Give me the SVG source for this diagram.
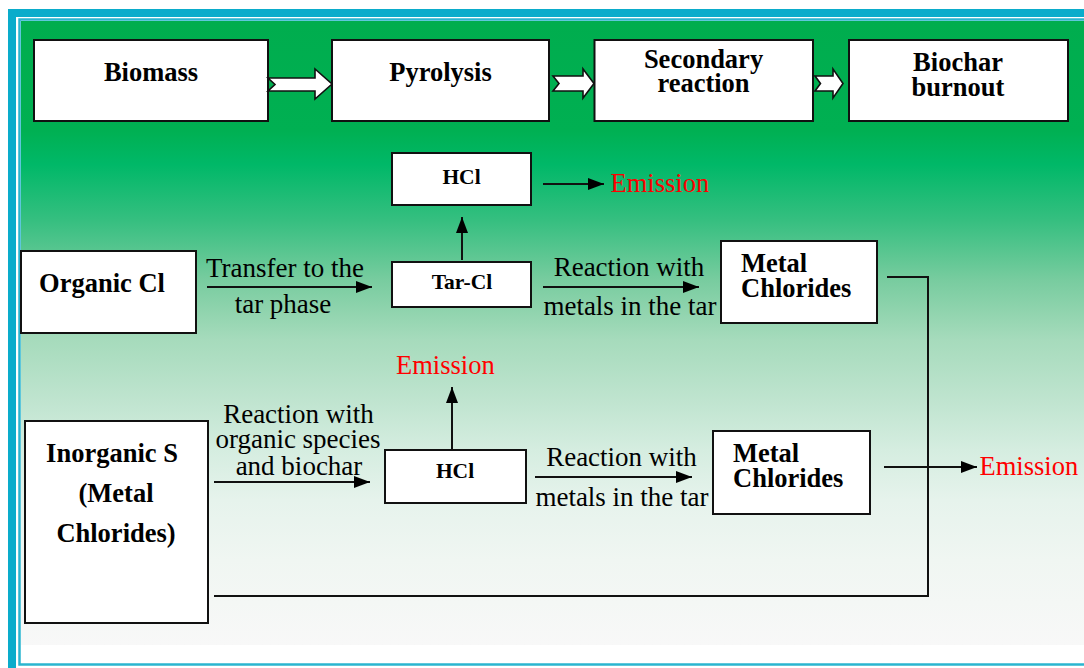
<svg xmlns="http://www.w3.org/2000/svg" width="1084" height="668" viewBox="0 0 1084 668">
<defs>
<linearGradient id="bg" x1="0" y1="21" x2="0" y2="645" gradientUnits="userSpaceOnUse">
<stop offset="0" stop-color="#00ad4e"/>
<stop offset="0.175" stop-color="#00b052"/>
<stop offset="0.23" stop-color="#00b868"/>
<stop offset="0.32" stop-color="#36bf80"/>
<stop offset="0.415" stop-color="#78cc9f"/>
<stop offset="0.511" stop-color="#a6dbbc"/>
<stop offset="0.607" stop-color="#bfe4cf"/>
<stop offset="0.6875" stop-color="#d5ede0"/>
<stop offset="0.768" stop-color="#e6f3ec"/>
<stop offset="0.864" stop-color="#f0f6f2"/>
<stop offset="1" stop-color="#f8f8f8"/>
</linearGradient>
<marker id="ah" markerUnits="userSpaceOnUse" markerWidth="16" markerHeight="12" refX="16" refY="6" orient="auto">
<path d="M0,0 L16,6 L0,12 Z" fill="#000"/>
</marker>
<style>
.box{fill:#fff;stroke:#111;stroke-width:2}
.blk{fill:#fff;stroke:#111;stroke-width:1.6;stroke-linejoin:miter}
text{font-family:'Liberation Serif','Tinos','Times New Roman','Nimbus Roman','DejaVu Serif',serif}
.b{font-weight:bold;fill:#000}
.big{font-size:26.5px}
.sm{font-size:21.5px}
.r{font-size:27px;fill:#000}
.em{font-size:26.5px;fill:#ff0000}
.c{text-anchor:middle}
.ln{fill:none;stroke:#111;stroke-width:2}
</style>
</defs>
<rect x="0" y="0" width="1084" height="668" fill="#fff"/>
<g id="frame">
<rect x="8" y="9" width="8" height="659" fill="#0aaccb"/>
<rect x="8" y="9" width="1076" height="8" fill="#0aaccb"/>
<rect x="21" y="21" width="1063" height="624" fill="url(#bg)"/>
<path d="M1084,664.5 L19.5,664.5 L19.5,19.5 L1084,19.5" fill="none" stroke="#2ab5cf" stroke-width="2.5"/>
</g>
<g id="biomass"><rect class="box" x="34" y="40" width="234" height="81"/><text class="b big c" x="151" y="81">Biomass</text></g>
<g id="pyrolysis"><rect class="box" x="332" y="40" width="217" height="81"/><text class="b big c" x="440.5" y="81">Pyrolysis</text></g>
<g id="secondary"><rect class="box" x="594.5" y="40" width="218.5" height="81"/><text class="b big c" x="703.5" y="68">Secondary</text><text class="b big c" x="703.5" y="92">reaction</text></g>
<g id="biochar"><rect class="box" x="849" y="40" width="219" height="81"/><text class="b big c" x="958" y="71">Biochar</text><text class="b big c" x="958" y="96">burnout</text></g>
<g id="block-arrows">
<path class="blk" d="M268,78 L315,78 L315,69 L332,84 L315,99 L315,91 L268,91 L275,84.5 Z"/>
<path class="blk" d="M553,76 L583,76 L583,69 L594,83.5 L583,98 L583,91 L553,91 L559,83.5 Z"/>
<path class="blk" d="M815,76 L833,76 L833,69 L843,83.5 L833,98 L833,91 L815,91 L820.5,83.5 Z"/>
</g>
<g id="hcl-top"><rect class="box" x="392" y="153" width="139" height="52"/><text class="b sm c" x="461.5" y="184">HCl</text></g>
<g id="organic-cl"><rect class="box" x="21" y="251" width="175" height="82"/><text class="b big c" x="102" y="292">Organic Cl</text></g>
<g id="tar-cl"><rect class="box" x="392" y="262" width="139" height="45"/><text class="b sm c" x="462" y="289">Tar-Cl</text></g>
<g id="metal-chlorides-1"><rect class="box" x="721" y="241" width="156" height="82"/><text class="b big" x="741" y="272">Metal</text><text class="b big" x="741" y="297">Chlorides</text></g>
<g id="inorganic-s"><rect class="box" x="25" y="421" width="183" height="202"/><text class="b big c" x="112" y="462">Inorganic S</text><text class="b big c" x="116" y="502">(Metal</text><text class="b big c" x="116" y="542">Chlorides)</text></g>
<g id="hcl-mid"><rect class="box" x="385" y="450" width="141" height="53"/><text class="b sm c" x="455" y="478">HCl</text></g>
<g id="metal-chlorides-2"><rect class="box" x="713" y="431" width="157" height="83"/><text class="b big" x="733" y="462">Metal</text><text class="b big" x="733" y="487">Chlorides</text></g>
<g id="labels">
<text class="em" x="610.5" y="192">Emission</text>
<text class="em" x="396" y="374">Emission</text>
<text class="em" x="979.5" y="475">Emission</text>
<text class="r c" x="285" y="277">Transfer to the</text>
<text class="r c" x="283" y="313">tar phase</text>
<text class="r c" x="629" y="276">Reaction with</text>
<text class="r c" x="630" y="315">metals in the tar</text>
<text class="r c" x="298.5" y="423">Reaction with</text>
<text class="r c" x="298" y="448">organic species</text>
<text class="r c" x="299" y="475">and biochar</text>
<text class="r c" x="621.5" y="466">Reaction with</text>
<text class="r c" x="622" y="506">metals in the tar</text>
</g>
<g id="connectors">
<line class="ln" x1="543" y1="184" x2="604" y2="184" marker-end="url(#ah)"/>
<line class="ln" x1="462" y1="260" x2="462" y2="217" marker-end="url(#ah)"/>
<line class="ln" x1="207" y1="287" x2="372" y2="287" marker-end="url(#ah)"/>
<line class="ln" x1="543" y1="287" x2="699" y2="287" marker-end="url(#ah)"/>
<polyline class="ln" points="887,277 928,277 928,596 214,596"/>
<line class="ln" x1="452" y1="449" x2="452" y2="387" marker-end="url(#ah)"/>
<line class="ln" x1="214" y1="482" x2="370" y2="482" marker-end="url(#ah)"/>
<line class="ln" x1="535" y1="477" x2="692" y2="477" marker-end="url(#ah)"/>
<line class="ln" x1="884" y1="467" x2="977" y2="467" marker-end="url(#ah)"/>
</g>
</svg>
